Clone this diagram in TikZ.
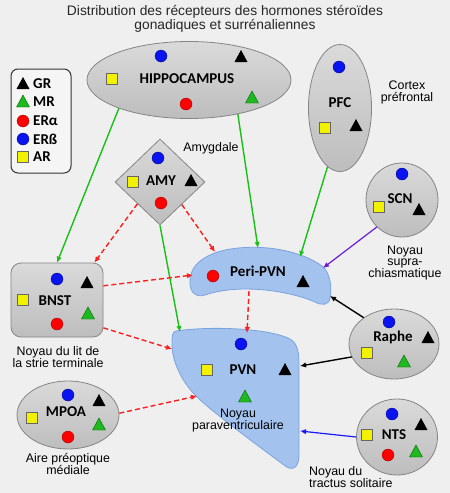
\documentclass[tikz,border=0pt]{standalone}
\usepackage{fontspec}
\setmainfont{Liberation Sans}
\newfontfamily\calfont{Carlito}
\usetikzlibrary{shapes.geometric,arrows.meta}
\definecolor{bgc}{HTML}{EFEFEF}
\definecolor{graytop}{HTML}{DADADA}
\definecolor{graybot}{HTML}{BDBDBD}
\definecolor{grayline}{HTML}{858585}
\definecolor{bluefill}{HTML}{A3C2EE}
\definecolor{blueline}{HTML}{7AA3DD}
\definecolor{gA}{HTML}{18C018}
\definecolor{rA}{HTML}{FF1E1E}
\definecolor{pA}{HTML}{6A1BD6}
\definecolor{bA}{HTML}{1A1AFF}
\definecolor{symblue}{HTML}{0A14F0}
\definecolor{symgreen}{HTML}{20B820}
\definecolor{symyellow}{HTML}{F2F200}
\newcommand\symGR[2]{\fill[black] (#1-6.5,#2+5) -- (#1+6.5,#2+5) -- (#1,#2-7) -- cycle;}
\newcommand\symMR[2]{\filldraw[fill=symgreen,draw=green!40!black,line width=0.4pt] (#1-6.5,#2+5) -- (#1+6.5,#2+5) -- (#1,#2-7) -- cycle;}
\newcommand\symERa[2]{\filldraw[fill=red,draw=red!60!black,line width=0.3pt] (#1,#2) circle (6);}
\newcommand\symERb[2]{\filldraw[fill=symblue,draw=blue!50!black,line width=0.3pt] (#1,#2) circle (6);}
\newcommand\symAR[2]{\filldraw[fill=symyellow,draw=gray!80!black,line width=0.5pt] (#1-5.5,#2-5.5) rectangle (#1+5.5,#2+5.5);}
\begin{document}
\begin{tikzpicture}[x=1pt,y=-1pt,
  grayshape/.style={draw=grayline,line width=0.8pt,top color=graytop,bottom color=graybot,inner sep=0pt},
  blueshape/.style={draw=blueline,line width=0.8pt,fill=bluefill},
  lbl/.style={font=\calfont\bfseries\fontsize{15}{15}\selectfont,inner sep=0pt},
  lgd/.style={font=\calfont\bfseries\fontsize{15}{15}\selectfont,inner sep=0pt,anchor=west},
  captxt/.style={font=\fontsize{12.4}{12}\selectfont,align=center,inner sep=0pt},
  ttl/.style={font=\fontsize{13.8}{12.5}\selectfont,align=center,inner sep=0pt},
  arr/.style={line width=1.4pt,-{Latex[length=6pt,width=5.5pt]}},
  garr/.style={arr,draw=gA},
  rarr/.style={arr,draw=rA,dash pattern=on 5pt off 3pt}]
\fill[bgc] (0,0) rectangle (450,493);
\useasboundingbox (0,0) rectangle (450,493);
% title
\node[ttl,text=black!85] (title) at (225,18.5) {Distribution des récepteurs des hormones stéroïdes\\gonadiques et surrénaliennes};
% legend
\node[draw=black!80,line width=1pt,rounded corners=7pt,fill=bgc!60!white,minimum width=60pt,minimum height=104pt,inner sep=0pt] (legend) at (41,121) {};
\symGR{23}{84} \node[lgd] (lgr) at (33,84) {GR};
\symMR{23}{102} \node[lgd] (lmr) at (33,102) {MR};
\symERa{23}{121} \node[lgd] (lera) at (33,121) {ERα};
\symERb{23}{139} \node[lgd] (lerb) at (33,139) {ERß};
\symAR{23}{157} \node[lgd] (lar) at (33,157) {AR};
% gray shapes
\node[grayshape,ellipse,minimum width=204pt,minimum height=77pt] (hip) at (189,80) {};
\node[grayshape,ellipse,minimum width=63pt,minimum height=127pt] (pfc) at (340,108) {};
\node[grayshape,diamond,minimum width=90pt,minimum height=86pt] (amy) at (160,182) {};
\node[grayshape,rectangle,rounded corners=10pt,minimum width=92pt,minimum height=74pt] (bnst) at (57,300) {};
\node[grayshape,ellipse,minimum width=72pt,minimum height=74pt] (scn) at (402,200) {};
\node[grayshape,ellipse,minimum width=90pt,minimum height=70pt] (raphe) at (394,344) {};
\node[grayshape,ellipse,minimum width=81pt,minimum height=76pt] (nts) at (397,437) {};
\node[grayshape,ellipse,minimum width=102pt,minimum height=68pt] (mpoa) at (68,415) {};
% blue shapes
\draw[blueshape] (190,283) .. controls (189,268) and (200,256) .. (225,250) .. controls (260,243) and (300,250) .. (322,266) .. controls (331,273) and (332,290) .. (330,298) .. controls (329,305) and (322,306) .. (315,302) .. controls (290,291) and (240,283) .. (205,295) .. controls (196,298) and (190,292) .. (190,283) -- cycle;
\draw[blueshape] (176,331) .. controls (210,326) and (265,328) .. (288,338) .. controls (297,342) and (299,350) .. (299,365) -- (299,455) .. controls (299,468) and (292,472) .. (284,465) .. controls (250,440) and (210,410) .. (196,396) .. controls (181,381) and (172,360) .. (172,345) .. controls (172,337) and (172,332) .. (176,331) -- cycle;
% connector coordinates on blue shapes
\coordinate (peritopA) at (258,248);
\coordinate (peritopB) at (300,257);
\coordinate (periamy) at (215,252);
\coordinate (perileft) at (193,275);
\coordinate (periscn) at (323,268);
\coordinate (periraphe) at (330,296);
\coordinate (peribot) at (249,291);
\coordinate (pvntop) at (247,333);
\coordinate (pvnamy) at (180,332);
\coordinate (pvnbnst) at (172,349);
\coordinate (pvnmpoa) at (197,396);
\coordinate (pvnraphe) at (300,366);
\coordinate (pvnnts) at (300,431);
% labels
\node[lbl] (thip) at (187,79) {HIPPOCAMPUS};
\node[lbl] (tpfc) at (340,103) {PFC};
\node[lbl] (tamy) at (161,181) {AMY};
\node[lbl] (tbnst) at (55,301) {BNST};
\node[lbl] (tperi) at (258,271) {Peri-PVN};
\node[lbl] (tpvn) at (243,370) {PVN};
\node[lbl] (traphe) at (393,337) {Raphe};
\node[lbl] (tnts) at (394,435) {NTS};
\node[lbl] (tscn) at (400,199) {SCN};
\node[lbl] (tmpoa) at (66,412) {MPOA};
% captions
\node[captxt] (camy) at (211,148) {Amygdale};
\node[captxt] (cpfc) at (407,92) {Cortex\\préfrontal};
\node[captxt,font=\fontsize{12.4}{11.2}\selectfont] (cscn) at (405,263) {Noyau\\supra-\\chiasmatique};
\node[captxt] (cbnst) at (58,357) {Noyau du lit de\\la strie terminale};
\node[captxt] (cmpoa) at (68,464) {Aire préoptique\\médiale};
\node[captxt] (cpvn) at (238,421) {Noyau\\paraventriculaire};
\node[captxt,align=left,anchor=west] (cnts) at (309,477) {Noyau du\\tractus solitaire};
% symbols
\symERb{161}{56} \symGR{241}{57} \symAR{112}{79} \symERa{186}{104} \symMR{252}{98}
\symERb{339}{67} \symAR{325}{128} \symGR{356}{126}
\symERb{158}{158} \symAR{133}{182} \symGR{191}{181} \symERa{161}{203}
\symERb{57}{279} \symGR{87}{283} \symAR{23}{300} \symMR{88}{314} \symERa{57}{324}
\symERa{213}{276} \symGR{303}{282}
\symERb{241}{344} \symAR{207}{370} \symGR{285}{370} \symMR{245}{397}
\symERb{389}{322} \symGR{428}{338} \symAR{367}{353} \symMR{404}{362}
\symERb{392}{414} \symGR{421}{425} \symAR{367}{435} \symERa{388}{455} \symMR{416}{452}
\symERb{402}{174} \symAR{379}{207} \symGR{419}{210}
\symERb{68}{395} \symGR{99}{401} \symAR{32}{418} \symMR{99}{425} \symERa{68}{437}
% connectors
\draw[garr] (hip.202) -- (bnst.north);
\draw[garr] (hip.325) -- (peritopA);
\draw[garr] (pfc.258) -- (peritopB);
\draw[garr] (amy.south) -- (pvnamy);
\draw[rarr] (amy.224) -- (bnst.45);
\draw[rarr] (amy.314) -- (periamy);
\draw[rarr] (bnst.17) -- (perileft);
\draw[rarr] (bnst.329) -- (pvnbnst);
\draw[rarr] (peribot) -- (pvntop);
\draw[rarr] (mpoa.2) -- (pvnmpoa);
\draw[arr,draw=pA,line width=1.2pt] (scn.227) -- (periscn);
\draw[arr,draw=black] (raphe.139) -- (periraphe);
\draw[arr,draw=black] (raphe.197) -- (pvnraphe);
\draw[arr,draw=bA,line width=1.2pt] (nts.180) -- (pvnnts);
\end{tikzpicture}
\end{document}
